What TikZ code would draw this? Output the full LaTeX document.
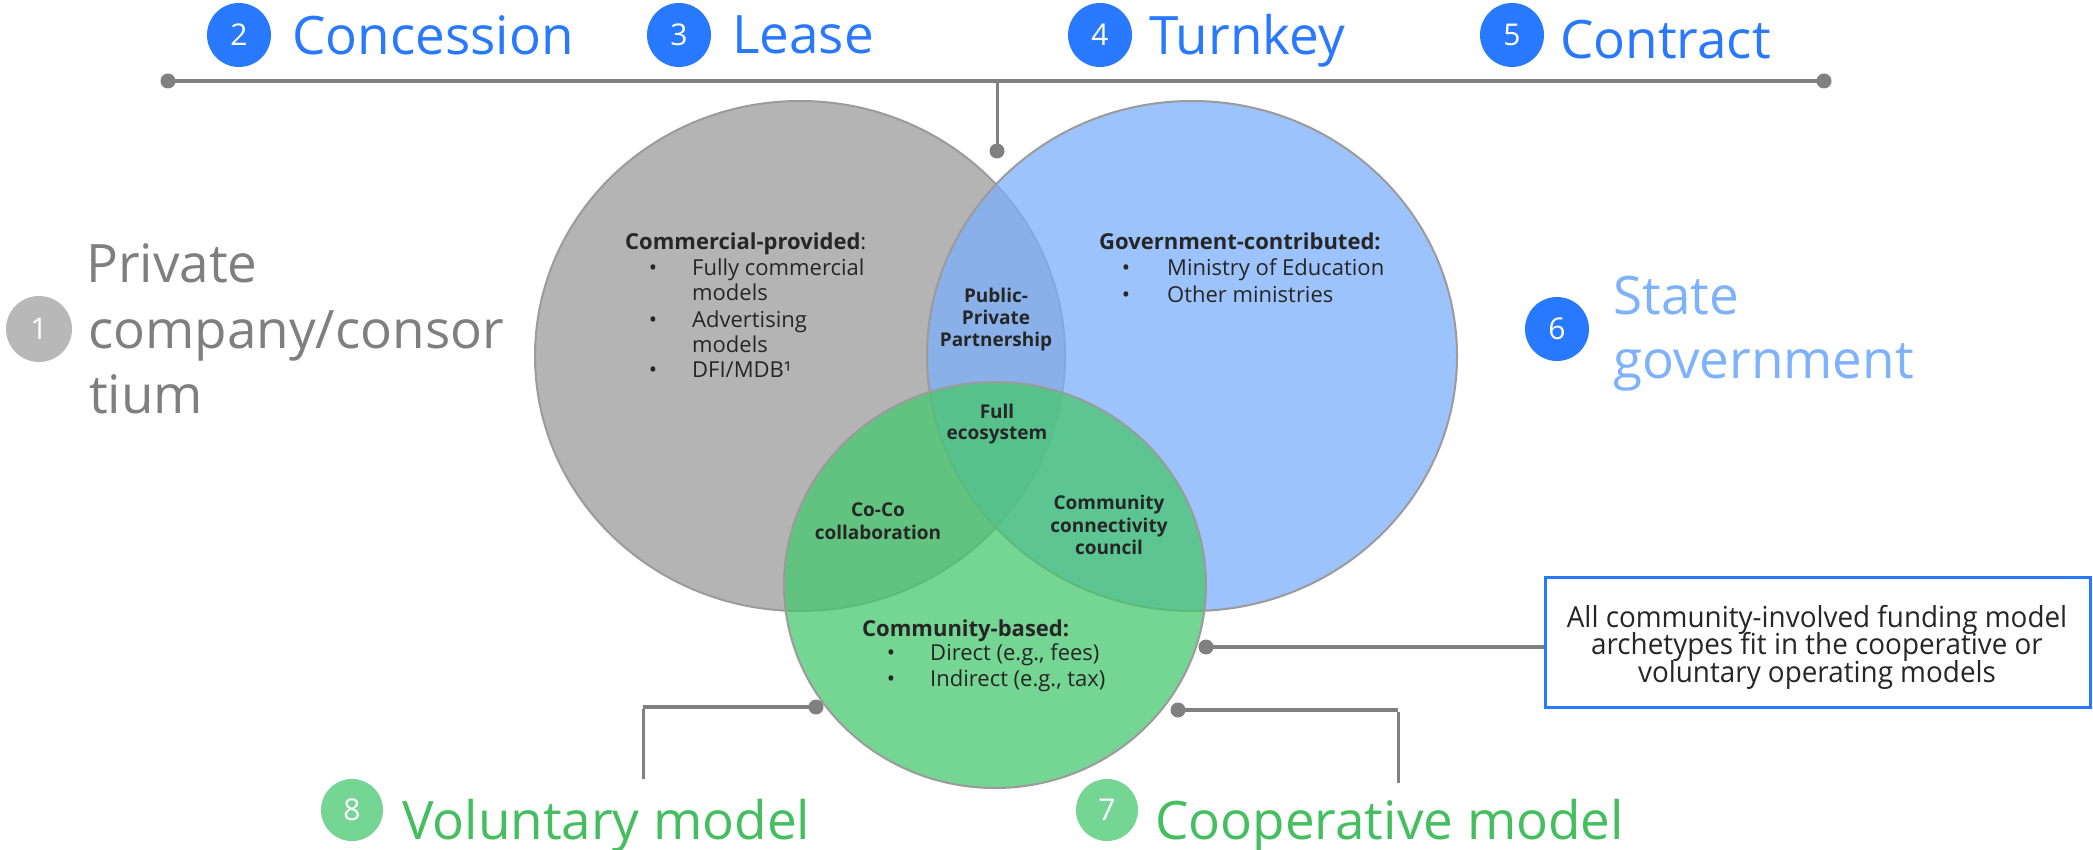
\documentclass[tikz,border=0pt]{standalone}
\usepackage{fontspec}
\setmainfont{Open Sans}
\newfontfamily\condfont[FakeStretch=0.96]{Open Sans}
\definecolor{refblue}{RGB}{41,121,255}
\definecolor{badgegray}{RGB}{184,184,184}
\definecolor{txtgray}{RGB}{127,127,127}
\definecolor{statetxt}{RGB}{126,178,252}
\definecolor{greentxt}{RGB}{68,190,94}
\definecolor{badgegreen}{RGB}{117,213,146}
\definecolor{linegray}{RGB}{128,128,128}
\definecolor{grayset}{RGB}{180,180,180}
\definecolor{blueset}{RGB}{123,175,250}
\definecolor{greenset}{RGB}{71,199,110}
\definecolor{vborder}{RGB}{155,155,155}
\definecolor{ink}{RGB}{38,38,38}
\begin{document}
\begin{tikzpicture}[x=1pt,y=-1pt,
  lbl/.style={inner sep=0pt, anchor=base west},
  lblc/.style={inner sep=0pt, anchor=base},
  bigtext/.style={lbl, font=\fontsize{53}{64}\selectfont},
  badge/.style={circle, inner sep=0pt, minimum size=64pt, text=white, font=\fontsize{30}{36}\selectfont},
  dotnode/.style={circle, fill=linegray, inner sep=0pt, minimum size=15pt},
  conn/.style={draw=linegray, line width=4pt},
  thinconn/.style={draw=linegray, line width=3pt},
  vhead/.style={lbl, text=ink, font=\fontsize{22}{26}\selectfont\bfseries},
  vitem/.style={lbl, text=ink, font=\fontsize{22}{26}\selectfont},
  vbul/.style={inner sep=0pt, anchor=base, text=ink, font=\fontsize{22}{26}\selectfont},
  vlab/.style={lblc, text=ink, font=\fontsize{19}{22}\selectfont\bfseries},
  boxtext/.style={lblc, text=ink, font=\condfont\fontsize{29}{33}\selectfont},
  vset/.style={draw=vborder, line width=2pt},
]
\useasboundingbox[fill=white] (0,0) rectangle (2093,850);

% Venn sets
\path[vset, fill=grayset] (800,356) ellipse [x radius=265, y radius=255];
\path[vset, fill=blueset, fill opacity=0.75] (1192,356) ellipse [x radius=265, y radius=255];
\path[vset, fill=greenset, fill opacity=0.75] (995,585) ellipse [x radius=211, y radius=203];

% top row
\node[badge, fill=refblue] (b2) at (239,35) {2};
\node[bigtext, text=refblue] (t2) at (292,55) {Concession};
\node[badge, fill=refblue] (b3) at (679,35) {3};
\node[bigtext, text=refblue] (t3) at (732,54) {Lease};
\node[badge, fill=refblue] (b4) at (1100,35) {4};
\node[bigtext, text=refblue] (t4) at (1149,55) {Turnkey};
\node[badge, fill=refblue] (b5) at (1512,35) {5};
\node[bigtext, text=refblue] (t5) at (1560,59) {Contract};

% top connector
\node[dotnode] (tl) at (168,81) {};
\node[dotnode] (tr) at (1824,81) {};
\draw[conn] (tl.center) -- (tr.center);
\coordinate (tm) at (997,81);
\node[dotnode] (tv) at (997,151) {};
\draw[thinconn] (tm) -- (tv.center);

% left label
\node[badge, fill=badgegray, minimum size=66pt] (b1) at (39,329) {1};
\node[bigtext, text=txtgray] (p1) at (86,283) {Private};
\node[bigtext, text=txtgray] (p2) at (88,348) {company/consor};
\node[bigtext, text=txtgray] (p3) at (89,413) {tium};

% right label
\node[badge, fill=refblue] (b6) at (1557,329) {6};
\node[bigtext, text=statetxt] (s1) at (1613,315) {State};
\node[bigtext, text=statetxt] (s2) at (1613,378) {government};

% bottom labels
\node[badge, fill=badgegreen, minimum size=62pt] (b8) at (352,810) {8};
\node[bigtext, text=greentxt] (v8) at (402,839) {Voluntary model};
\node[badge, fill=badgegreen, minimum size=62pt] (b7) at (1107,810) {7};
\node[bigtext, text=greentxt] (c7) at (1155,839) {Cooperative model};

% bottom connectors
\node[dotnode] (dl) at (816,707) {};
\coordinate (dlc) at (643,707);
\coordinate (dle) at (643,779);
\draw[conn] (dl.center) -- (dlc);
\draw[thinconn] ([yshift=-2pt]dlc) -- (dle);
\node[dotnode] (dr) at (1178,710) {};
\coordinate (drc) at (1398,710);
\coordinate (dre) at (1398,783);
\draw[conn] (dr.center) -- (drc);
\draw[thinconn] ([yshift=-2pt]drc) -- (dre);

% callout
\node[draw=refblue, line width=3pt, fill=white, minimum width=545pt, minimum height=130pt, inner sep=0pt] (box) at (1817.5,642) {};
\node[dotnode] (dc) at (1206,647) {};
\draw[conn] (dc.center) -- (dc.center -| box.west);
\node[boxtext] (bt1) at (1817,627) {All community-involved funding model};
\node[boxtext] (bt2) at (1817,654) {archetypes fit in the cooperative or};
\node[boxtext] (bt3) at (1817,682) {voluntary operating models};

% commercial text
\node[vhead] (ch) at (625,250) {Commercial-provided\mdseries:};
\node[vbul] (cb1) at (653,276) {\textbullet};
\node[vitem] (ci1) at (692,276) {Fully commercial};
\node[vitem] (ci1b) at (692,301) {models};
\node[vbul] (cb2) at (653,327) {\textbullet};
\node[vitem] (ci2) at (692,327) {Advertising};
\node[vitem] (ci2b) at (692,352) {models};
\node[vbul] (cb3) at (653,377) {\textbullet};
\node[vitem] (ci3) at (692,377) {DFI/MDB¹};

% government text
\node[vhead] (gh) at (1099,250) {Government-contributed:};
\node[vbul] (gb1) at (1126,276) {\textbullet};
\node[vitem] (gi1) at (1167,276) {Ministry of Education};
\node[vbul] (gb2) at (1126,302) {\textbullet};
\node[vitem] (gi2) at (1167,302) {Other ministries};

% community text
\node[vhead] (mh) at (862,636) {Community-based:};
\node[vbul] (mb1) at (891,660) {\textbullet};
\node[vitem] (mi1) at (930,660) {Direct (e.g., fees)};
\node[vbul] (mb2) at (891,686) {\textbullet};
\node[vitem] (mi2) at (930,686) {Indirect (e.g., tax)};

% intersection labels
\node[vlab] (pp1) at (996,302) {Public-};
\node[vlab] (pp2) at (996,324) {Private};
\node[vlab] (pp3) at (996,346) {Partnership};
\node[vlab] (fe1) at (997,418) {Full};
\node[vlab] (fe2) at (997,439) {ecosystem};
\node[vlab] (cc1) at (878,516) {Co-Co};
\node[vlab] (cc2) at (878,539) {collaboration};
\node[vlab] (cm1) at (1109,509) {Community};
\node[vlab] (cm2) at (1109,532) {connectivity};
\node[vlab] (cm3) at (1109,554) {council};
\end{tikzpicture}
\end{document}
